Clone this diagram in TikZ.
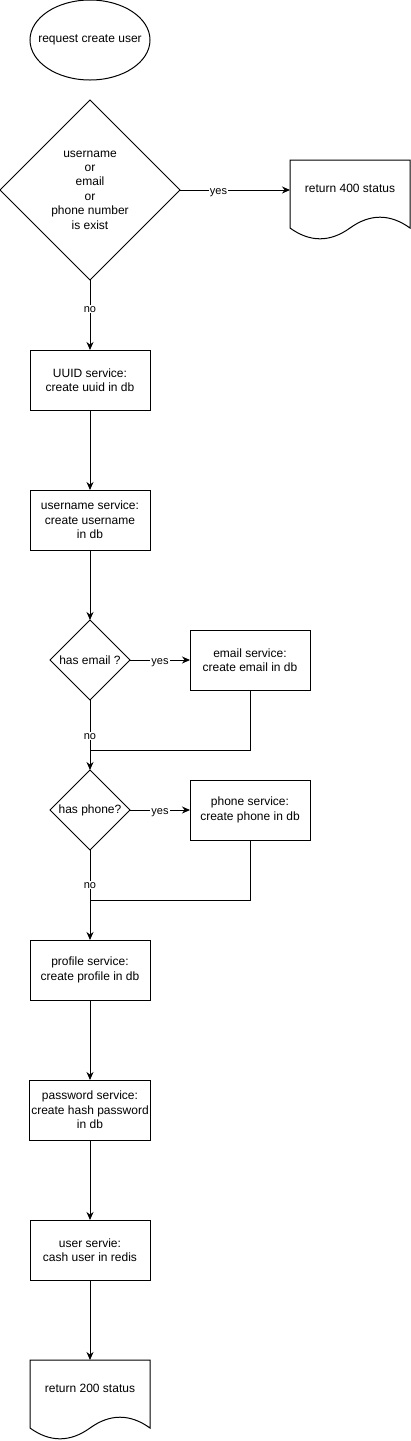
\documentclass[tikz,border=0pt]{standalone}
\usepackage{fontspec}
\setmainfont{Liberation Sans}
\usetikzlibrary{positioning,shapes.geometric,arrows.meta,calc}

\tikzset{
	every node/.style={font=\fontsize{12}{14.4}\selectfont, outer sep=0pt},
	terminal/.style={draw, ellipse, minimum width=120pt, minimum height=80pt, inner xsep=-12pt, inner ysep=0pt},
	proc/.style={draw, rectangle, minimum width=120pt, minimum height=60pt, align=center, inner sep=2pt},
	decide/.style={draw, diamond, aspect=1, align=center, inner sep=0pt},
	docnode/.style={rectangle, minimum width=120pt, minimum height=56pt, align=center, inner sep=2pt},
	lbl/.style={fill=white, inner sep=1pt, text height=6pt, text depth=0pt, yshift=-1pt, font=\fontsize{11}{13}\selectfont},
	flow/.style={-{Stealth[length=8pt,width=7pt]}}
}

% outline of a document shape round a docnode
\newcommand{\docoutline}[1]{%
	\draw (#1.north west) -- (#1.north east) -- ($(#1.north east)+(0,68)$)
		.. controls ($(#1.north east)+(-20,53.6)$) and ($(#1.north east)+(-40,53.6)$) .. ($(#1.north)+(0,68)$)
		.. controls ($(#1.north west)+(40,82.4)$) and ($(#1.north west)+(20,82.4)$) .. ($(#1.north west)+(0,68)$)
		-- cycle;}

\begin{document}
\begin{tikzpicture}[x=1pt, y=-1pt, line width=1pt]
	\useasboundingbox (0,0) rectangle (411,1441);

	%% REQUEST AND CHECK
	\node[terminal](request) at (90,40){request create user};
	\node[decide, minimum width=180pt, minimum height=180pt, below=20pt of request](exists){username\\or\\email\\or\\phone number\\is exist};
	\node[docnode, right=110pt of exists, yshift=2pt](ret_400){return 400 status};
	\docoutline{ret_400}

	\draw[flow] (exists.east) -- node[lbl, pos=0.35]{yes} (exists.east -| ret_400.west);

	%% SERVICES
	\node[proc, below=70pt of exists](uuid_svc){UUID service:\\create uuid in db};
	\node[proc, below=80pt of uuid_svc](username_svc){username service:\\create username\\in db};

	\draw[flow] (exists) -- node[lbl, pos=0.4]{no} (uuid_svc);
	\draw[flow] (uuid_svc) -- (username_svc);

	%% EMAIL
	\node[decide, minimum width=80pt, minimum height=80pt, below=70pt of username_svc](has_email){has email ?};
	\node[proc, right=60pt of has_email](email_svc){email service:\\create email in db};
	\coordinate[below=50pt of has_email.south](join_email);

	\draw[flow] (username_svc) -- (has_email);
	\draw[flow] (has_email) -- node[lbl]{yes} (email_svc);
	\draw (email_svc) |- (join_email);

	%% PHONE
	\node[decide, minimum width=80pt, minimum height=80pt, below=70pt of has_email](has_phone){has phone?};
	\node[proc, right=60pt of has_phone](phone_svc){phone service:\\create phone in db};
	\coordinate[below=50pt of has_phone.south](join_phone);

	\draw[flow] (has_email) -- node[lbl]{no} (has_phone);
	\draw[flow] (has_phone) -- node[lbl]{yes} (phone_svc);
	\draw (phone_svc) |- (join_phone);

	%% PROFILE, PASSWORD, USER
	\node[proc, below=90pt of has_phone](profile_svc){profile service:\\create profile in db};
	\node[proc, below=80pt of profile_svc](password_svc){password service:\\create hash password\\in db};
	\node[proc, below=80pt of password_svc](user_svc){user servie:\\cash user in redis};
	\node[docnode, below=80pt of user_svc](ret_200){return 200 status};
	\docoutline{ret_200}

	\draw[flow] (has_phone) -- node[lbl, pos=0.38]{no} (profile_svc);
	\draw[flow] (profile_svc) -- (password_svc);
	\draw[flow] (password_svc) -- (user_svc);
	\draw[flow] (user_svc) -- (ret_200);

\end{tikzpicture}
\end{document}
